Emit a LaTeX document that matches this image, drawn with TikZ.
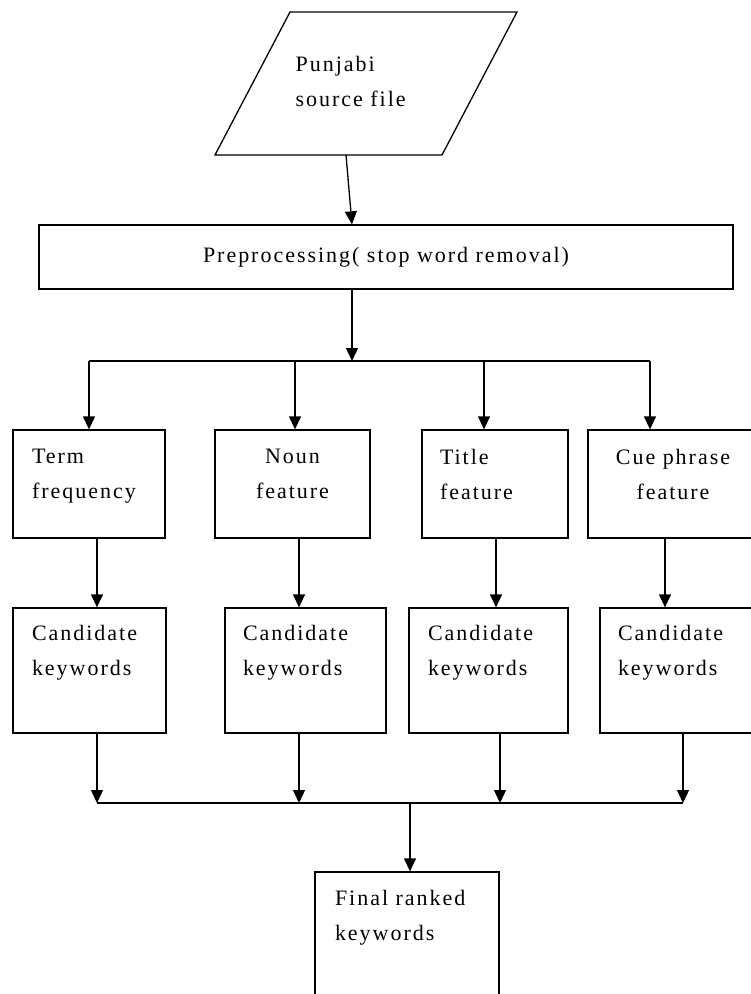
\documentclass[tikz,border=0pt]{standalone}
\usepackage{fontspec}
\setmainfont{Liberation Serif}[LetterSpace=9]
\usetikzlibrary{arrows.meta, positioning}

\begin{document}
\begin{tikzpicture} [x=1pt, y={(0pt,-1pt)}, line width=1.3pt,
  box/.style={draw, rectangle, inner sep=0pt},
  txt/.style={inner sep=0pt, font=\fontsize{22}{35}\selectfont},
  lt/.style={txt, anchor=north west, align=left},
  ct/.style={txt, anchor=north, align=center},
  arr/.style={-{Triangle[length=13pt, width=12pt]}}]
\useasboundingbox (0,0) rectangle (751,994);
\clip (0,0) rectangle (751,994);

% input
\draw (290,12) -- (517,12) -- (442,155) -- (215,155) -- cycle;
\coordinate (src) at (346,155);
\node (srct) [lt] at (295,56) {Punjabi\\source file};

\node (pre) [box, minimum width=694pt, minimum height=64pt, txt] at (386,257) {Preprocessing( stop word removal)};

% features
\node (tf)  [box, minimum width=152pt, minimum height=108pt] at (89,484) {};
\node (nf)  [box, minimum width=155pt, minimum height=108pt] at (292.5,484) {};
\node (tif) [box, minimum width=146pt, minimum height=108pt] at (495,484) {};
\node (cpf) [box, minimum width=166pt, minimum height=108pt] at (671,484) {};
\node (tft)  [lt] at ([shift={(19,19)}]tf.north west) {Term\\frequency};
\node (nft)  [ct] at ([shift={(0,19)}]nf.north) {Noun\\feature};
\node (tift) [lt] at ([shift={(18,19)}]tif.north west) {Title\\feature};
\node (cpft) [ct] at ([shift={(2,19)}]cpf.north) {Cue phrase\\feature};

% candidates
\node (c1) [box, minimum width=153pt, minimum height=125pt] at (89.5,670.5) {};
\node (c2) [box, minimum width=161pt, minimum height=125pt] at (305.5,670.5) {};
\node (c3) [box, minimum width=159pt, minimum height=125pt] at (488.5,670.5) {};
\node (c4) [box, minimum width=154pt, minimum height=125pt] at (677,670.5) {};
\foreach \c/\dx in {c1/19, c2/18, c3/19, c4/18}
  \node (\c t) [lt] at ([shift={(\dx,17)}]\c.north west) {Candidate\\keywords};

\node (fin) [box, minimum width=184pt, minimum height=138pt] at (407,941) {};
\node (fint) [lt] at ([shift={(20,18)}]fin.north west) {Final ranked\\keywords};

% connectors
\coordinate (split) at (352,361);
\coordinate (merge) at (410,803);
\draw [arr] (src) -- (pre.north -| 352,0);
\draw [arr] (pre.south -| split) -- (split);
\draw (split -| 89,0) -- (split -| 650,0);
\foreach \f/\x in {tf/89, nf/295, tif/484, cpf/650}
  \draw [arr] (split -| \x,0) -- (\f.north -| \x,0);
\foreach \f/\c/\x in {tf/c1/97, nf/c2/299, tif/c3/496, cpf/c4/665}
  \draw [arr] (\f.south -| \x,0) -- (\c.north -| \x,0);
\foreach \c/\x in {c1/97, c2/299, c3/500, c4/683}
  \draw [arr] (\c.south -| \x,0) -- (merge -| \x,0);
\draw (merge -| 97,0) -- (merge -| 683,0);
\draw [arr] (merge) -- (fin.north -| merge);
\end{tikzpicture}
\end{document}
